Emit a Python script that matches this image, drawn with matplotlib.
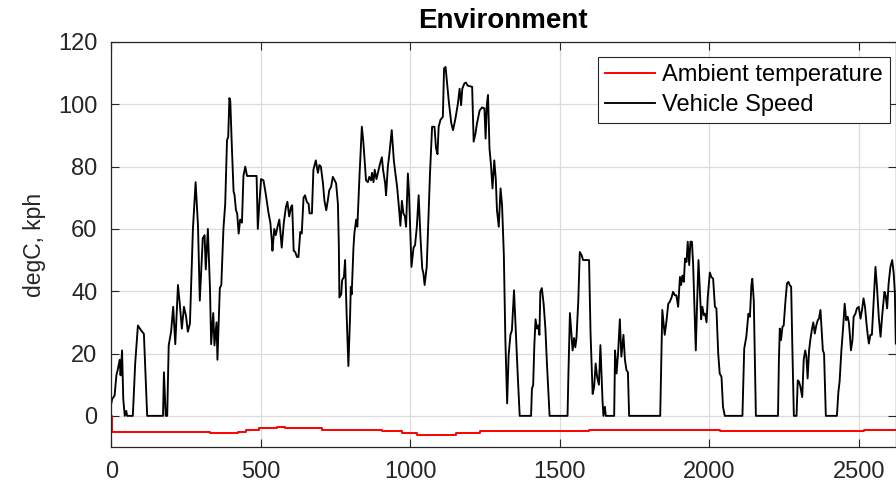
import matplotlib
matplotlib.use("Agg")
import matplotlib.pyplot as plt

plt.rcParams['font.family'] = ['Liberation Sans', 'DejaVu Sans']

# Vehicle speed trace (time s, speed kph)
speed_t = [0, 3, 11, 17, 22, 28, 31, 36, 40, 45, 50, 53, 72, 80, 89, 100, 109, 120, 173, 176, 182, 187,
           192, 200, 207, 214, 223, 229, 236, 243, 250, 256, 263, 273, 282, 290, 296, 306, 312, 316, 323,
           330, 334, 341, 345, 352, 355, 363, 368, 375,
           381, 387, 391, 395, 398, 403, 409, 412, 417, 421, 426, 431, 437, 442, 448, 454, 459, 481, 486,
           490, 495, 501, 509, 517, 526, 532, 537, 539, 545, 550, 556, 562, 566, 570, 577, 584, 589, 595,
           601, 605, 610, 615, 621, 626, 632, 637, 643, 648, 654, 660, 663, 671, 676, 684, 691, 696, 701,
           708, 713, 719, 724, 729, 735, 741, 747,
           752, 758, 761, 763, 769, 772, 778, 782, 787, 791, 793, 799, 801, 804, 810, 813, 819, 823, 830,
           838, 843, 852, 858, 863, 869, 872, 877, 881, 887, 894, 899, 905, 909, 916, 919, 925, 930, 938,
           945, 950, 956, 962, 967, 972, 977, 982, 986, 992, 996, 1004, 1011, 1016, 1022, 1028, 1034,
           1040, 1044, 1048, 1055, 1061, 1066, 1073, 1081, 1086, 1091, 1095, 1101, 1109, 1113,
           1118, 1129, 1137, 1143, 1151, 1159, 1165, 1170, 1174, 1181, 1186, 1192, 1207, 1212, 1218, 1223,
           1232, 1240, 1248, 1252, 1256, 1260, 1265, 1270, 1275, 1281, 1286, 1290, 1296, 1302, 1307, 1313,
           1318, 1324, 1329, 1335, 1340, 1347, 1353, 1359, 1366, 1404, 1407, 1411, 1415, 1419, 1424, 1428,
           1432, 1435, 1440, 1446, 1452, 1457, 1466,
           1526, 1529, 1534, 1539, 1543, 1548, 1552, 1556, 1562, 1567, 1573, 1578, 1598, 1603, 1610, 1615,
           1620, 1625, 1631, 1636, 1643, 1646, 1651, 1654, 1682, 1685, 1690, 1695, 1701, 1706, 1713, 1718,
           1723, 1728, 1732, 1836, 1843, 1851, 1856, 1863, 1868, 1874, 1879, 1885, 1890, 1896, 1902, 1906,
           1910, 1915, 1919, 1924, 1928, 1933, 1937, 1942, 1946, 1951, 1955, 1959, 1964, 1968, 1973, 1977,
           1982, 1986, 1991, 1995, 2002, 2007, 2013, 2019, 2024, 2030, 2035, 2041, 2046, 2052, 2111, 2117,
           2124, 2131, 2136, 2141, 2144, 2149, 2156, 2230, 2233, 2236, 2240, 2245, 2249, 2255, 2260, 2265,
           2269, 2274, 2278, 2283, 2292, 2296, 2300, 2305, 2311, 2316, 2321, 2325, 2329, 2334, 2338, 2343,
           2348, 2353, 2358, 2363, 2367, 2372, 2376, 2380, 2384, 2390, 2427, 2432, 2436, 2442, 2448, 2453,
           2458, 2463, 2467, 2470, 2474, 2479, 2483, 2489, 2494, 2500, 2506, 2511, 2516, 2521, 2526, 2530,
           2534, 2539, 2544, 2550, 2556, 2561, 2567, 2573, 2579, 2586, 2590, 2595, 2600, 2606, 2612, 2617,
           2621, 2624]
speed_v = [4, 5.4, 6.5, 13, 15, 18, 13, 21, 5.4, 0, 1.6, 0, 0, 17, 29, 27.4, 26.3, 0, 0, 14, 0, 0,
           22.6, 27, 35, 23, 42, 36, 28, 35, 32, 27, 29.6, 60, 75, 61, 37, 57, 58, 47, 60,
           41, 23, 33, 22.6, 30, 18, 41, 42, 60,
           68, 88.5, 89.5, 102, 101, 87, 72, 71, 66, 65, 58.5, 63, 62, 77, 80, 77, 77, 77, 77,
           60, 68, 76, 75.6, 71, 65, 62, 56, 53, 60, 58, 60.7, 63, 58.5, 54, 62, 67, 68.7, 64,
           67, 67.6, 53, 52.6, 51, 51, 59, 58.5, 70, 70.8, 68.7, 68, 65, 65, 79, 82, 78, 80.5, 80,
           74.6, 69, 66, 69, 72.4, 73.5, 76.7, 75.6,
           74.6, 68, 55, 38, 39, 43.5, 44.6, 50, 33, 21, 16, 33, 41.4, 39, 54, 58.5, 63, 60.7, 76.7,
           92.8, 88, 75.6, 75, 76.7, 75.6, 78, 75, 79, 76, 79, 81, 83, 79, 74.6, 70.8, 80, 84, 91.7,
           82, 78, 73.5, 67, 61, 69, 65, 64, 60.7, 77.8, 71, 47.8, 54, 54.8, 60.7, 70.8, 57.5,
           47.3, 45.7, 42, 47.8, 64, 77.8, 92.8, 92.8, 86, 84, 92.8, 95, 96, 111.5,
           112, 100.8, 94, 91.7, 95.4, 100, 105, 99.7, 105, 106.7, 107, 106, 105.6, 88, 90.6, 93.8,
           98, 99, 98.7, 89, 99.7, 103, 85.8, 80.5, 73, 82, 76, 66, 60.7, 73, 67.6, 51.6,
           24.8, 4, 19.5, 26, 27.5, 40.3, 27, 14, 0, 0, 8.8, 9.8, 22.7, 31, 28, 29,
           26, 39.8, 41, 36, 28, 17, 0,
           0, 13.6, 33, 26.4, 21, 25, 22, 25, 37, 52.6, 51.6, 50, 50, 26.4, 7, 9.3,
           16.8, 12.5, 10, 22.7, 5, 0, 2.9, 0, 0, 21, 13.6, 20, 31, 19, 26, 18,
           14.7, 14, 0, 0, 34, 26, 29.6, 36, 36.6, 38, 39.8, 38.7, 38.7, 35, 44.6, 42,
           45, 43, 50.5, 49.4, 55.9, 48.4, 55.9, 55.9, 48.9, 34, 21, 35, 50, 41.4, 31, 35,
           32.3, 32.8, 30, 38, 46, 44.6, 44, 35, 34.5, 20, 13.6, 12.5, 2.9, 0, 0, 21.6,
           25.4, 32.8, 31.8, 42, 44, 37, 0, 0, 18, 28, 24.3, 28.6, 29, 37, 42.5, 43,
           42, 41.4, 22, 0, 0, 11.4, 11, 9.3, 6, 18, 21, 19, 12, 21, 24.3, 27.5,
           30, 26.4, 29, 30.7, 31.2, 34, 27.5, 21, 20, 0, 0, 7.7, 11, 21, 28.6, 36,
           30.7, 31.8, 30, 26.4, 21, 24.3, 31.8, 32.8, 34.5, 35, 31.2, 34, 37.7, 35, 29.6, 26,
           23.2, 26, 26, 37, 47.8, 41.4, 31.8, 25.4, 32.8, 39.8, 38.7, 34.5, 42.5, 47.8, 50, 45.7,
           39.3, 23.2]

# Ambient temperature (step levels, degC)
temp_t = [0, 1, 331, 424, 450, 494, 553, 580, 706, 907, 974, 1021, 1152, 1232, 1597, 2035, 2516, 2624]
temp_v = [0, -5.1, -5.6, -5.1, -4.6, -4.0, -3.5, -4.0, -4.5, -5.0, -5.5, -6.0, -5.5, -5.0, -4.5, -5.0, -4.4, -4.4]

x_ticks = [0, 500, 1000, 1500, 2000, 2500]
y_ticks = [0, 20, 40, 60, 80, 100, 120]

fig = plt.figure(figsize=(8.96, 4.87), dpi=100)
ax = fig.add_axes([111.3 / 896, 1 - 447 / 487, (895.5 - 111.3) / 896, (447 - 42) / 487])

ax.plot(temp_t, temp_v, color='#FF0000', lw=1.4, drawstyle='steps-post', label='Ambient temperature')
ax.plot(speed_t, speed_v, color='black', lw=1.35, label='Vehicle Speed')

ax.set_xlim(0, 2623)
ax.set_ylim(-10, 120)
ax.set_xticks(x_ticks)
ax.set_yticks(y_ticks)
ax.grid(True, color='#DCDCDC', lw=0.9)
ax.set_axisbelow(True)
for s in ax.spines.values():
    s.set_color('#262626')
    s.set_linewidth(0.9)
ax.tick_params(direction='in', top=True, right=True, length=5.5, width=0.8,
               colors='#262626', labelsize=17, pad=10)
ax.set_ylabel('degC, kph', fontsize=16.5, color='#262626', labelpad=9)
ax.set_title('Environment', fontsize=20, fontweight='bold', color='black', pad=10)

leg = ax.legend(loc='upper right', bbox_to_anchor=(0.9925, 0.963), fontsize=17,
                frameon=True, fancybox=False, edgecolor='#262626', framealpha=1,
                handlelength=2.1, handletextpad=0.3, borderpad=0.3, labelspacing=0.35,
                borderaxespad=0)
leg.get_frame().set_linewidth(0.8)

fig.savefig('out.png', dpi=100)
